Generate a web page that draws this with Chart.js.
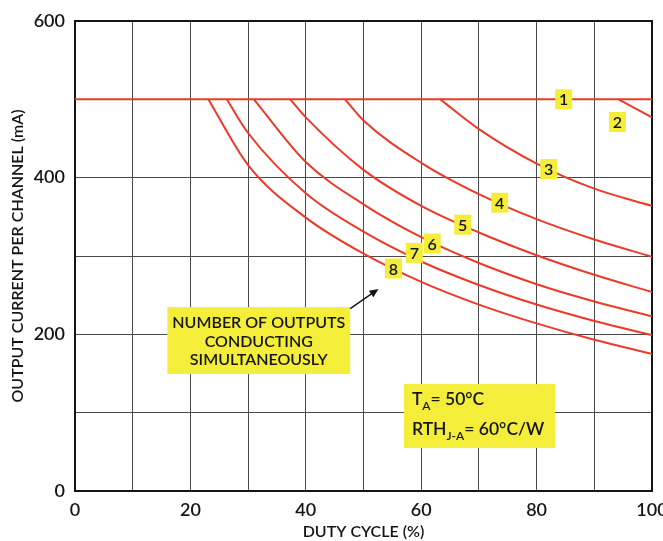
<!DOCTYPE html>
<html>
<head>
<meta charset="utf-8">
<script src="https://cdn.jsdelivr.net/npm/chart.js@4"></script>
<style>
  html, body { margin: 0; padding: 0; background: #fff; }
  #wrap { width: 663px; height: 541px; position: relative; }
</style>
</head>
<body>
<div id="wrap"><canvas id="dutyChart"></canvas></div>
<script>
// one curve per number of outputs conducting at the same time
const outputs = ['1', '2', '3', '4', '5', '6', '7', '8'];

// duty cycle (%) where each curve was read
const dutyPoints = [
  [0, 100],
  [94.2, 100],
  [63.3, 70, 80, 90, 100],
  [46.8, 50, 60, 70, 80, 90, 100],
  [37.3, 40, 50, 60, 70, 80, 90, 100],
  [31.0, 40, 50, 60, 70, 80, 90, 100],
  [26.3, 30, 40, 50, 60, 70, 80, 90, 100],
  [23.1, 30, 40, 50, 60, 70, 80, 90, 100]
];

// output current per channel (mA) at those duty cycles
const currentPoints = [
  [500, 500],
  [500, 477],
  [500, 462, 418, 386, 364],
  [500, 473, 419, 379, 347, 321, 299],
  [500, 477, 410, 364, 330, 301, 276, 254],
  [500, 420, 366, 324, 291, 264, 242, 223],
  [500, 457, 380, 331, 293, 263, 238, 217, 199],
  [500, 416, 349, 303, 267, 238, 214, 193, 175]
];

// where the number tags sit (duty %, mA)
const tagDuty = [84.7, 94.0, 82.1, 73.6, 67.2, 61.9, 58.8, 55.2];
const tagCurrent = [500, 471, 411, 368, 340, 316, 304, 284];

// labelled ticks (grid runs every 10 % / 100 mA)
const xTicks = [0, 20, 40, 60, 80, 100];
const yTicks = [0, 200, 400, 600];

const noteLines = ['NUMBER OF OUTPUTS', 'CONDUCTING', 'SIMULTANEOUSLY'];

const RED = '#ec3a28';
const YELLOW = '#f4ee3a';
const INK = '#151515';
const FONT = 'Lato, "Open Sans", sans-serif';

const datasets = outputs.map((n, i) => ({
  label: n,
  data: dutyPoints[i].map((d, k) => ({ x: d, y: currentPoints[i][k] })),
  borderColor: RED,
  borderWidth: 2,
  pointRadius: 0,
  fill: false,
  cubicInterpolationMode: 'monotone'
}));

// frame, tags and the two yellow notes
const notes = {
  id: 'notes',
  beforeDatasetsDraw(chart) {
    const { ctx, chartArea: a } = chart;
    ctx.save();
    ctx.strokeStyle = INK;
    ctx.lineWidth = 2;
    ctx.strokeRect(a.left, a.top, a.right - a.left, a.bottom - a.top);
    ctx.restore();
  },
  afterDatasetsDraw(chart) {
    const { ctx, scales: { x, y } } = chart;
    ctx.save();

    // number tags on the curves
    ctx.font = '600 16px ' + FONT;
    ctx.textAlign = 'center';
    ctx.textBaseline = 'middle';
    outputs.forEach((n, i) => {
      const px = x.getPixelForValue(tagDuty[i]);
      const py = y.getPixelForValue(tagCurrent[i]);
      ctx.fillStyle = YELLOW;
      ctx.fillRect(px - 8.5, py - 10, 17, 20);
      ctx.fillStyle = INK;
      ctx.fillText(n, px, py + 1);
    });

    // "number of outputs" note
    const l = x.getPixelForValue(16.0), r = x.getPixelForValue(47.7);
    const t = y.getPixelForValue(234.8), b = y.getPixelForValue(149.3);
    ctx.fillStyle = YELLOW;
    ctx.fillRect(l, t, r - l, b - t);
    ctx.fillStyle = INK;
    ctx.font = '600 16px ' + FONT;
    noteLines.forEach((s, k) => {
      ctx.fillText(s, (l + r) / 2, t + 16 + k * 18.3, r - l - 6);
    });

    // arrow toward the curves
    const ax0 = x.getPixelForValue(47.7), ay0 = y.getPixelForValue(232.8);
    const ax1 = x.getPixelForValue(52.6), ay1 = y.getPixelForValue(258);
    const ang = Math.atan2(ay1 - ay0, ax1 - ax0);
    ctx.strokeStyle = INK;
    ctx.lineWidth = 1.5;
    ctx.beginPath();
    ctx.moveTo(ax0, ay0);
    ctx.lineTo(ax1 - 6 * Math.cos(ang), ay1 - 6 * Math.sin(ang));
    ctx.stroke();
    ctx.beginPath();
    ctx.moveTo(ax1, ay1);
    ctx.lineTo(ax1 - 9 * Math.cos(ang) + 4 * Math.sin(ang), ay1 - 9 * Math.sin(ang) - 4 * Math.cos(ang));
    ctx.lineTo(ax1 - 9 * Math.cos(ang) - 4 * Math.sin(ang), ay1 - 9 * Math.sin(ang) + 4 * Math.cos(ang));
    ctx.closePath();
    ctx.fill();

    // conditions note
    const cl = x.getPixelForValue(57.0), cr = x.getPixelForValue(83.2);
    const ct = y.getPixelForValue(136.5), cb = y.getPixelForValue(54.9);
    ctx.fillStyle = YELLOW;
    ctx.fillRect(cl, ct, cr - cl, cb - ct);
    ctx.fillStyle = INK;
    ctx.textAlign = 'left';
    ctx.textBaseline = 'alphabetic';
    const big = '600 17.5px ' + FONT, small = '600 12px ' + FONT;
    const put = (parts, px, base) => {
      parts.forEach(([txt, sub]) => {
        ctx.font = sub ? small : big;
        ctx.fillText(txt, px, sub ? base + 5 : base);
        px += ctx.measureText(txt).width;
      });
    };
    put([['T', false], ['A', true], ['= 50°C', false]], cl + 8, ct + 21);
    put([['RTH', false], ['J-A', true], ['= 60°C/W', false]], cl + 8, ct + 51);

    ctx.restore();
  }
};

new Chart(document.getElementById('dutyChart'), {
  type: 'line',
  data: { datasets },
  plugins: [notes],
  options: {
    responsive: true,
    maintainAspectRatio: false,
    animation: false,
    layout: { padding: { top: 21, right: 11, bottom: 0, left: 0 } },
    plugins: { legend: { display: false }, tooltip: { enabled: false } },
    scales: {
      x: {
        type: 'linear',
        min: 0,
        max: 100,
        grid: { color: '#4a4a4a', lineWidth: 1, drawTicks: false },
        border: { color: INK, width: 2 },
        ticks: {
          stepSize: 10,
          autoSkip: false,
          maxRotation: 0,
          padding: 8,
          color: INK,
          font: { family: FONT, size: 18, weight: '600' },
          callback: v => xTicks.includes(v) ? v : ''
        },
        title: {
          display: true,
          text: 'DUTY CYCLE (%)',
          color: INK,
          font: { family: FONT, size: 16, weight: '600' },
          padding: { top: 0, bottom: 0 }
        },
        afterFit: s => { s.height = 50; s.paddingLeft = 0; s.paddingRight = 0; }
      },
      y: {
        min: 0,
        max: 600,
        grid: { color: '#4a4a4a', lineWidth: 1, drawTicks: false },
        border: { color: INK, width: 2 },
        ticks: {
          stepSize: 100,
          autoSkip: false,
          padding: 10,
          color: INK,
          font: { family: FONT, size: 18, weight: '600' },
          callback: v => yTicks.includes(v) ? v : ''
        },
        title: {
          display: true,
          text: 'OUTPUT CURRENT PER CHANNEL (mA)',
          color: INK,
          font: { family: FONT, size: 16, weight: '600' },
          padding: { top: 8, bottom: 0 }
        },
        afterFit: s => { s.width = 75; s.paddingTop = 0; s.paddingBottom = 0; }
      }
    }
  }
});
</script>
</body>
</html>
